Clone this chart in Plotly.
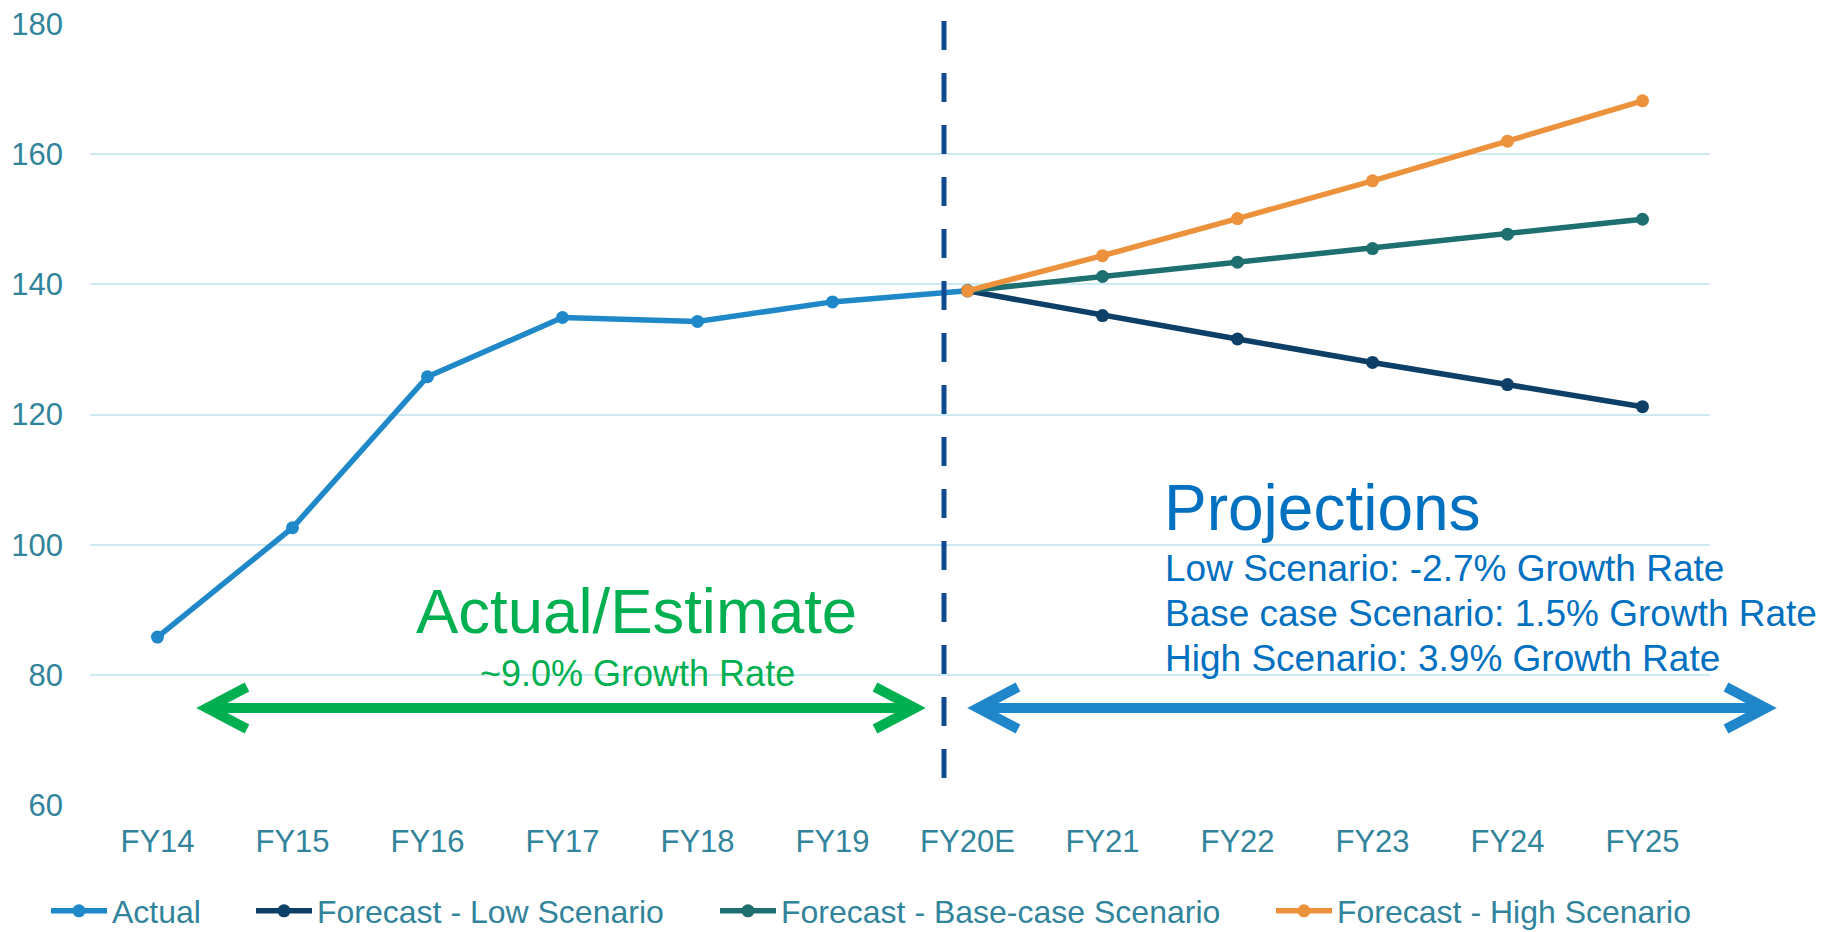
import plotly.graph_objects as go

categories = ["FY14", "FY15", "FY16", "FY17", "FY18", "FY19", "FY20E", "FY21", "FY22", "FY23", "FY24", "FY25"]
actual_x = ["FY14", "FY15", "FY16", "FY17", "FY18", "FY19", "FY20E"]
actual_y = [85.8, 102.6, 125.8, 134.9, 134.3, 137.3, 139.0]
fc_x = ["FY20E", "FY21", "FY22", "FY23", "FY24", "FY25"]
low_y = [139.0, 135.2, 131.6, 128.0, 124.6, 121.2]
base_y = [139.0, 141.2, 143.4, 145.5, 147.7, 150.0]
high_y = [139.0, 144.4, 150.1, 155.9, 162.0, 168.2]
y_ticks = [60, 80, 100, 120, 140, 160, 180]

W, H = 1825, 932
L, R, T, B = 90, 1710, 23, 806
FONT = "Liberation Sans, Arial, sans-serif"
TICK_COLOR = "#31849B"


def px(x):
    return (x - L) / (R - L)


def py(y):
    return (B - y) / (B - T)


fig = go.Figure()
series = [
    ("Actual", actual_x, actual_y, "#1E88C8"),
    ("Forecast - Low Scenario", fc_x, low_y, "#0E3F66"),
    ("Forecast - Base-case Scenario", fc_x, base_y, "#1D6F70"),
    ("Forecast - High Scenario", fc_x, high_y, "#EC923C"),
]
legend_names = ["legend2", "legend3", "legend4", "legend5"]
for (name, xs, ys, col), lg in zip(series, legend_names):
    fig.add_trace(go.Scatter(
        x=xs, y=ys, name=name, mode="lines+markers",
        line=dict(color=col, width=5.5),
        marker=dict(color=col, size=13),
        legend=lg, showlegend=True,
    ))

legend_px = [46, 251, 715, 1271]
leg_common = dict(orientation="h", yanchor="middle", xanchor="left", yref="paper", xref="paper",
                  font=dict(family=FONT, size=32, color=TICK_COLOR),
                  itemwidth=56, bgcolor="rgba(0,0,0,0)", visible=True)
layout_legends = {}
for lg, lx in zip(legend_names, legend_px):
    layout_legends[lg] = dict(x=px(lx), y=py(911), **leg_common)

shapes = []
# vertical dashed divider
shapes.append(dict(type="line", xref="paper", yref="paper",
                   x0=px(944), x1=px(944), y0=py(21), y1=py(793),
                   line=dict(color="#0F4A90", width=5, dash="29px,23px")))


def arrow_path(x0, x1, yc, dx=40, dy=21):
    s = "M{:.5f},{:.5f} L{:.5f},{:.5f} L{:.5f},{:.5f} ".format(
        px(x0 + dx), py(yc - dy), px(x0), py(yc), px(x0 + dx), py(yc + dy))
    s += "M{:.5f},{:.5f} L{:.5f},{:.5f} ".format(px(x0), py(yc), px(x1), py(yc))
    s += "M{:.5f},{:.5f} L{:.5f},{:.5f} L{:.5f},{:.5f}".format(
        px(x1 - dx), py(yc - dy), px(x1), py(yc), px(x1 - dx), py(yc + dy))
    return s


shapes.append(dict(type="path", xref="paper", yref="paper",
                   path=arrow_path(207, 915, 708), line=dict(color="#00B050", width=10)))
shapes.append(dict(type="path", xref="paper", yref="paper",
                   path=arrow_path(978, 1766, 708), line=dict(color="#1F87C9", width=10)))

annotations = [
    dict(text="Actual/Estimate", x=px(636), y=py(611), xref="paper", yref="paper",
         xanchor="center", yanchor="middle", showarrow=False,
         font=dict(family=FONT, size=63.5, color="#00B050")),
    dict(text="~9.0% Growth Rate", x=px(637), y=py(673), xref="paper", yref="paper",
         xanchor="center", yanchor="middle", showarrow=False,
         font=dict(family=FONT, size=36, color="#00B050")),
    dict(text="Projections", x=px(1162), y=py(508), xref="paper", yref="paper",
         xanchor="left", yanchor="middle", showarrow=False,
         font=dict(family=FONT, size=64, color="#0070C0")),
]
proj_lines = ["Low Scenario: -2.7% Growth Rate",
              "Base case Scenario: 1.5% Growth Rate",
              "High Scenario: 3.9% Growth Rate"]
for t, yy in zip(proj_lines, [568, 613, 658]):
    annotations.append(dict(text=t, x=px(1163), y=py(yy), xref="paper", yref="paper",
                            xanchor="left", yanchor="middle", showarrow=False,
                            font=dict(family=FONT, size=37, color="#0070C0")))

fig.update_layout(
    width=W, height=H,
    showlegend=True,
    margin=dict(l=L, r=W - R, t=T, b=H - B, pad=0, autoexpand=False),
    paper_bgcolor="white", plot_bgcolor="white",
    font=dict(family=FONT, color=TICK_COLOR),
    shapes=shapes, annotations=annotations,
    xaxis=dict(type="category", categoryorder="array", categoryarray=categories,
               range=[-0.5, 11.5], showgrid=False, zeroline=False, showline=False,
               tickfont=dict(family=FONT, size=31, color=TICK_COLOR),
               ticklabelstandoff=14, fixedrange=True),
    yaxis=dict(range=[59.85, 180.15], tickvals=y_ticks, showgrid=True, gridcolor="#CDE9F1",
               gridwidth=2, zeroline=False, showline=False,
               tickfont=dict(family=FONT, size=31, color=TICK_COLOR),
               ticklabelstandoff=26, fixedrange=True),
    **layout_legends,
)

fig.write_html("out.html")
